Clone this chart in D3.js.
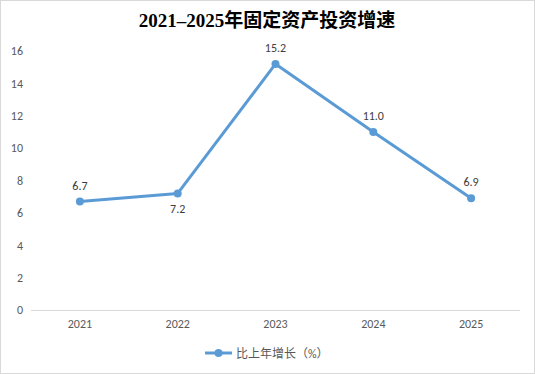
<!DOCTYPE html>
<html><head><meta charset="utf-8">
<script src="https://cdn.jsdelivr.net/npm/d3@7/dist/d3.min.js"></script>
<style>body{margin:0;background:#fff}svg{display:block}</style>
</head><body>
<svg id="c" width="535" height="374"></svg>
<script>
const title = "2021\u20132025年固定资产投资增速";
const categories = ["2021","2022","2023","2024","2025"];
const values = [6.7, 7.2, 15.2, 11.0, 6.9];
const labelPos = ["above","below","above","above","above"];
const yTicks = [0,2,4,6,8,10,12,14,16];
const seriesName = "比上年增长（%）";

const W = 535, H = 374;
const svg = d3.select("#c");
const color = "#5B9BD5";
const font = "Calibri, Carlito, 'Noto Sans CJK SC', 'DejaVu Sans', sans-serif";

svg.append("rect").attr("x",0.5).attr("y",0.5).attr("width",W-1).attr("height",H-1)
  .attr("fill","#fff").attr("stroke","#d9d9d9");

svg.append("text").attr("x",267).attr("y",27).attr("text-anchor","middle")
  .attr("font-family","'Liberation Serif','Times New Roman','Noto Sans CJK SC',serif")
  .attr("font-weight","bold").attr("font-size",19).attr("fill","#000").text(title);

const x = d3.scaleBand().domain(categories).range([31,520]);
const y = d3.scaleLinear().domain([0,16]).range([310,51]);

// y axis labels
const ya = svg.append("g").attr("transform","translate(26,0)")
  .call(d3.axisLeft(y).tickValues(yTicks).tickSize(0).tickPadding(3));
ya.select(".domain").remove();
ya.selectAll("text").attr("font-family",font).attr("font-size",12).attr("fill","#595959");

// x axis
const xa = svg.append("g").attr("transform","translate(0,310)")
  .call(d3.axisBottom(x).tickSize(0).tickPadding(9));
xa.select(".domain").attr("stroke","#d9d9d9").attr("d","M31,0.5H520");
xa.selectAll("text").attr("font-family",font).attr("font-size",12).attr("fill","#595959");

const cx = d => x(d) + x.bandwidth()/2;
const line = d3.line().x((d,i)=>cx(categories[i])).y(d=>y(d));
svg.append("path").datum(values).attr("d",line).attr("fill","none")
  .attr("stroke",color).attr("stroke-width",3).attr("stroke-linejoin","round");
svg.selectAll("circle.m").data(values).join("circle").attr("class","m")
  .attr("cx",(d,i)=>cx(categories[i])).attr("cy",d=>y(d)).attr("r",4).attr("fill",color);
svg.selectAll("text.lbl").data(values).join("text").attr("class","lbl")
  .attr("x",(d,i)=>cx(categories[i]))
  .attr("y",(d,i)=>labelPos[i]==="above" ? y(d)-12 : y(d)+20)
  .attr("text-anchor","middle").attr("font-family",font).attr("font-size",12).attr("fill","#404040")
  .text(d=>d.toFixed(1));

// legend
const lg = svg.append("g");
lg.append("line").attr("x1",205).attr("x2",232).attr("y1",353).attr("y2",353)
  .attr("stroke",color).attr("stroke-width",3);
lg.append("circle").attr("cx",218.5).attr("cy",353).attr("r",4).attr("fill",color);
lg.append("text").attr("x",236).attr("y",357.5).attr("font-family",font).attr("font-size",12)
  .attr("fill","#595959").text(seriesName);
</script>
</body></html>
